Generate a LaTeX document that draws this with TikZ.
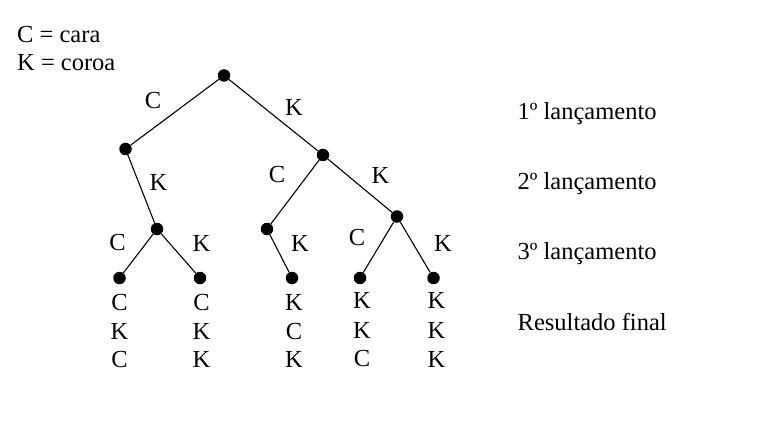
\documentclass[tikz,border=0pt]{standalone}
\usepackage{fontspec}
\setmainfont{Liberation Serif}
\begin{document}
\begin{tikzpicture}[x=1pt,y=-1pt,
  dot/.style={circle,fill=black,inner sep=0pt,minimum size=12.5pt},
  edge/.style={line width=1.1pt},
  lbl/.style={inner sep=0pt,font=\fontsize{24.5}{28}\selectfont},
  txt/.style={inner sep=0pt,anchor=base west,font=\fontsize{24.5}{28}\selectfont}]
\useasboundingbox (0,0) rectangle (767,430);
% legend
\node[txt] (leg1) at (17,42.3) {C = cara};
\node[txt] (leg2) at (17,70.7) {K = coroa};
% right labels
\node[txt] (r1) at (517.5,119.3) {1º lançamento};
\node[txt] (r2) at (517.5,189.3) {2º lançamento};
\node[txt] (r3) at (517.5,259.3) {3º lançamento};
\node[txt] (r4) at (517.5,330) {Resultado final};
% tree nodes
\node[dot] (root) at (224,75.5) {};
\node[dot] (a) at (125.5,149) {};
\node[dot] (b) at (323,155) {};
\node[dot] (aa) at (157,229) {};
\node[dot] (ba) at (267,229) {};
\node[dot] (bb) at (397,216.5) {};
\node[dot] (l1) at (119.5,278) {};
\node[dot] (l2) at (200,278) {};
\node[dot] (l3) at (292,278) {};
\node[dot] (l4) at (360,278) {};
\node[dot] (l5) at (433.5,278) {};
% edges
\draw[edge] (root) -- (a);
\draw[edge] (root) -- (b);
\draw[edge] (a) -- (aa);
\draw[edge] (b) -- (ba);
\draw[edge] (b) -- (bb);
\draw[edge] (aa) -- (l1);
\draw[edge] (aa) -- (l2);
\draw[edge] (ba) -- (l3);
\draw[edge] (bb) -- (l4);
\draw[edge] (bb) -- (l5);
% edge labels
\node[lbl] (e1) at (153,101) {C};
\node[lbl] (e2) at (294,107) {K};
\node[lbl] (e3) at (158.5,182) {K};
\node[lbl] (e4) at (277,175) {C};
\node[lbl] (e5) at (380.5,175) {K};
\node[lbl] (e6) at (117.5,242.5) {C};
\node[lbl] (e7) at (201.5,243) {K};
\node[lbl] (e8) at (300,243) {K};
\node[lbl] (e9) at (357,237.5) {C};
\node[lbl] (e10) at (443,243) {K};
% results
\node[lbl] (c1a) at (119.5,302.5) {C};
\node[lbl] (c1b) at (119.5,331.5) {K};
\node[lbl] (c1c) at (119.5,359.5) {C};
\node[lbl] (c2a) at (201.5,302.5) {C};
\node[lbl] (c2b) at (201.5,331.5) {K};
\node[lbl] (c2c) at (201.5,359.5) {K};
\node[lbl] (c3a) at (294,302.5) {K};
\node[lbl] (c3b) at (294,331.5) {C};
\node[lbl] (c3c) at (294,359.5) {K};
\node[lbl] (c4a) at (362,300.5) {K};
\node[lbl] (c4b) at (362,330) {K};
\node[lbl] (c4c) at (362,359) {C};
\node[lbl] (c5a) at (436.5,300.5) {K};
\node[lbl] (c5b) at (436.5,330) {K};
\node[lbl] (c5c) at (436.5,359) {K};
\end{tikzpicture}
\end{document}
